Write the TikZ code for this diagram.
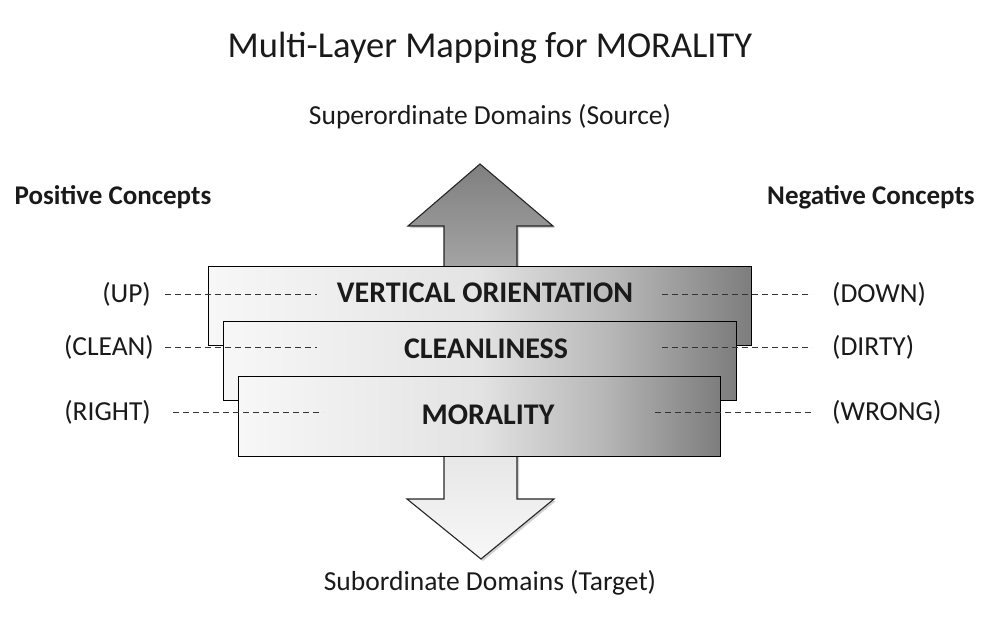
\documentclass[tikz,border=0pt]{standalone}
\usepackage{fontspec}
\setmainfont{Carlito}
\usetikzlibrary{shadows}
\definecolor{bA}{HTML}{F7F7F7}
\definecolor{bB}{HTML}{E3E3E3}
\definecolor{bC}{HTML}{B8B8B8}
\definecolor{bD}{HTML}{7D7D7D}
\definecolor{txt}{HTML}{1A1A1A}
\definecolor{dashc}{HTML}{333333}
\pgfdeclarehorizontalshading{boxshade}{100bp}{color(0bp)=(bA); color(25bp)=(bA); color(50bp)=(bB); color(62.5bp)=(bC); color(75bp)=(bD); color(100bp)=(bD)}
\tikzset{
  layerbox/.style={draw=black, line width=1.1pt, shade, shading=boxshade, inner sep=0pt, anchor=north west},
  boxtext/.style={font=\fontsize{30}{34}\selectfont\bfseries, text=txt, inner sep=0pt},
  lbl/.style={font=\fontsize{27.5}{30}\selectfont, text=txt, inner sep=0pt},
  headlbl/.style={font=\fontsize{27}{30}\selectfont\bfseries, text=txt, inner sep=0pt},
  dashline/.style={draw=dashc, line width=1pt, dash pattern=on 6pt off 4pt},
  arrowshape/.style={draw=black!85, line width=1.1pt, drop shadow={shadow xshift=2pt, shadow yshift=-2pt, opacity=0.18, fill=black}},
}
\begin{document}
\begin{tikzpicture}[x=1pt,y=-1pt]
\useasboundingbox[fill=white] (0,0) rectangle (982,623);
% titles
\node[font=\fontsize{36.5}{40}\selectfont, text=txt, inner sep=0pt] (title) at (490,48) {Multi-Layer Mapping for MORALITY};
\node[lbl] (super) at (490,117) {Superordinate Domains (Source)};
\node[lbl] (sub) at (490,583) {Subordinate Domains (Target)};
\node[headlbl] (pos) at (113,197) {Positive Concepts};
\node[headlbl] (neg) at (871,197) {Negative Concepts};
% arrows
\path[arrowshape, top color=black!50, bottom color=black!34]
  (444,280) -- (444,226) -- (408,226) -- (480,164) -- (553,226) -- (517,226) -- (517,280) -- cycle;
\path[arrowshape, top color=black!10, bottom color=black!3]
  (444,445) -- (444,499) -- (407,499) -- (481,559) -- (554,499) -- (517,499) -- (517,445) -- cycle;
% layers
\node[layerbox, minimum width=543pt, minimum height=79pt] (b1) at (208,266) {};
\node[layerbox, minimum width=513pt, minimum height=79pt] (b2) at (223,321) {};
\node[layerbox, minimum width=482pt, minimum height=80pt] (b3) at (238,376) {};
\node[boxtext] (vo) at (485,293) {VERTICAL ORIENTATION};
\node[boxtext] (cl) at (486,349) {CLEANLINESS};
\node[boxtext] (mo) at (488,415) {MORALITY};
% side labels
\node[lbl, anchor=east] (up) at (151,294) {(UP)};
\node[lbl, anchor=east] (clean) at (154,347) {(CLEAN)};
\node[lbl, anchor=east] (right) at (151,412) {(RIGHT)};
\node[lbl, anchor=west] (down) at (832,294) {(DOWN)};
\node[lbl, anchor=west] (dirty) at (832,347) {(DIRTY)};
\node[lbl, anchor=west] (wrong) at (832,412) {(WRONG)};
% dashed connectors
\coordinate (upA) at (165,294);  \coordinate (upB) at (317,294);
\coordinate (clA) at (165,347);  \coordinate (clB) at (317,347);
\coordinate (riA) at (173,412);  \coordinate (riB) at (323,412);
\coordinate (doA) at (662,294);  \coordinate (doB) at (812,294);
\coordinate (diA) at (662,347);  \coordinate (diB) at (812,347);
\coordinate (wrA) at (655,412);  \coordinate (wrB) at (812,412);
\draw[dashline] (upA) -- (upB);
\draw[dashline] (clA) -- (clB);
\draw[dashline] (riA) -- (riB);
\draw[dashline] (doA) -- (doB);
\draw[dashline] (diA) -- (diB);
\draw[dashline] (wrA) -- (wrB);
\end{tikzpicture}
\end{document}
